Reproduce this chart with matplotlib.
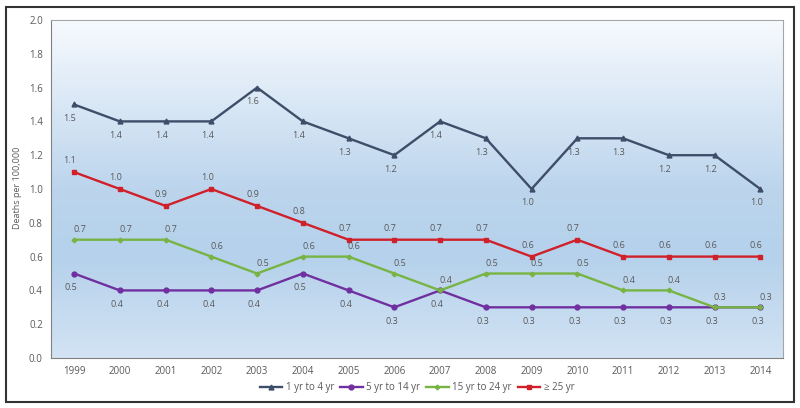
import numpy as np
import matplotlib.pyplot as plt
from matplotlib.colors import LinearSegmentedColormap
from matplotlib.patches import Rectangle

years = ['1999', '2000', '2001', '2002', '2003', '2004', '2005', '2006',
         '2007', '2008', '2009', '2010', '2011', '2012', '2013', '2014']
age_1_4 = [1.5, 1.4, 1.4, 1.4, 1.6, 1.4, 1.3, 1.2, 1.4, 1.3, 1.0, 1.3, 1.3, 1.2, 1.2, 1.0]
age_5_14 = [0.5, 0.4, 0.4, 0.4, 0.4, 0.5, 0.4, 0.3, 0.4, 0.3, 0.3, 0.3, 0.3, 0.3, 0.3, 0.3]
age_15_24 = [0.7, 0.7, 0.7, 0.6, 0.5, 0.6, 0.6, 0.5, 0.4, 0.5, 0.5, 0.5, 0.4, 0.4, 0.3, 0.3]
age_25_up = [1.1, 1.0, 0.9, 1.0, 0.9, 0.8, 0.7, 0.7, 0.7, 0.7, 0.6, 0.7, 0.6, 0.6, 0.6, 0.6]

plt.rcParams['font.family'] = ['Open Sans', 'DejaVu Sans']
txt = '#595959'

fig = plt.figure(figsize=(8, 4.08), dpi=100)
ax = fig.add_axes([0.064, 0.1225, 0.915, 0.8285])

x = np.arange(len(years))
ax.set_xlim(-0.5, len(years) - 0.5)
ax.set_ylim(0, 2.0)

# gradient background
cmap = LinearSegmentedColormap.from_list(
    'bg', [(0.0, '#d2e3f4'), (0.3, '#b5d1eb'), (0.5, '#bcd5ed'), (1.0, '#f7fafe')])
grad = np.linspace(0, 1, 256).reshape(-1, 1)
ax.imshow(grad, cmap=cmap, origin='lower', aspect='auto',
          extent=(-0.5, len(years) - 0.5, 0, 2.0), zorder=0)

series = [
    (age_1_4, '1 yr to 4 yr', '#3e4e69', '^', 3.5, (-3, -10)),
    (age_5_14, '5 yr to 14 yr', '#7030a0', 'o', 3.5, (-2, -10)),
    (age_15_24, '15 yr to 24 yr', '#78b443', 'P', 3, (4, 7)),
    (age_25_up, '\u2265 25 yr', '#d0202a', 's', 3.5, (-3, 8)),
]
for vals, name, col, mk, ms, off in series:
    ax.plot(x, vals, color=col, marker=mk, markersize=ms, linewidth=1.7,
            label=name, zorder=3)
    for xi, v in zip(x, vals):
        ax.annotate(f'{v:.1f}', (xi, v), xytext=off, textcoords='offset points',
                    ha='center', va='center', fontsize=6.5, color=txt, zorder=4)

ax.set_xticks(x)
ax.set_xticklabels(years)
ax.set_yticks(np.arange(0, 2.01, 0.2))
ax.set_yticklabels([f'{v:.1f}' for v in np.arange(0, 2.01, 0.2)])
ax.tick_params(axis='both', labelsize=7, colors=txt, length=0, pad=6)
for s in ax.spines.values():
    s.set_color('#a6a6a6')
ax.spines['left'].set_color('#808080')
ax.spines['bottom'].set_color('#808080')

fig.text(0.022, 0.54, 'Deaths per 100,000', rotation=90, ha='center',
         va='center', fontsize=6.5, color=txt)

ax.legend(loc='center', bbox_to_anchor=(0.5, -0.087), ncol=4, frameon=False,
          fontsize=7, labelcolor=txt, handlelength=2.3, columnspacing=0.6,
          handletextpad=0.4)

fig.add_artist(Rectangle((0.007, 0.014), 0.986, 0.97, transform=fig.transFigure,
                         fill=False, edgecolor='#333333', linewidth=1.5))

fig.savefig('out.png', dpi=100)
